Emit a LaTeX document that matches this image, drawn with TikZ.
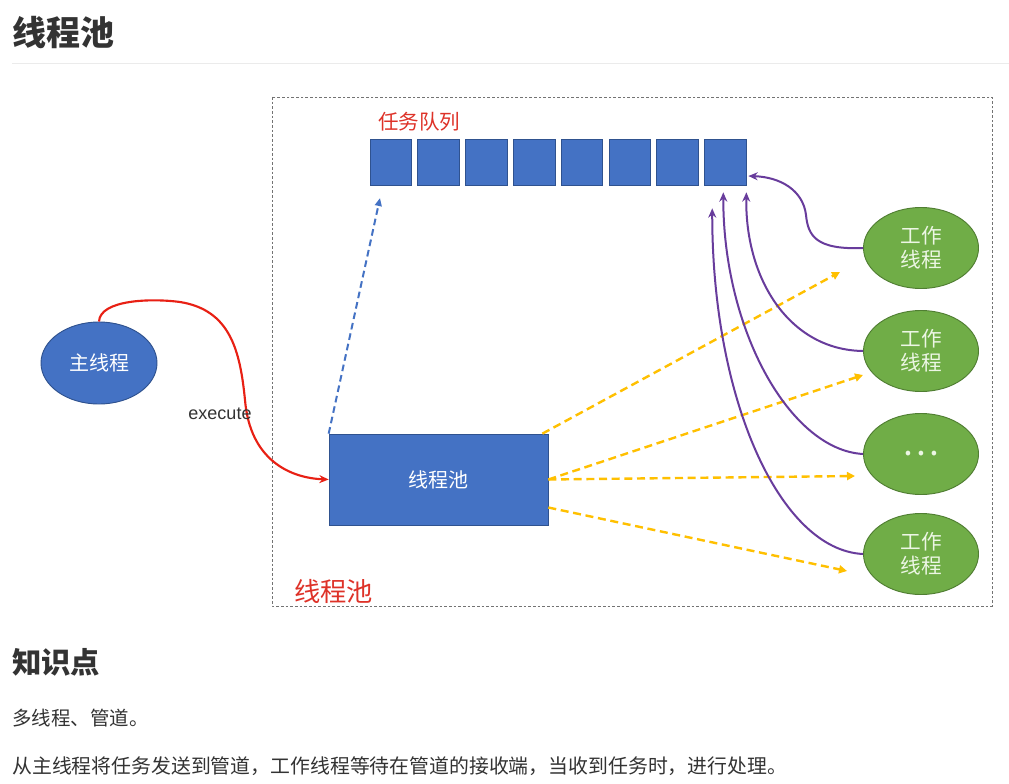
\documentclass[tikz,border=0pt]{standalone}
\usepackage{fontspec}
\setmainfont{Liberation Sans}
\newfontfamily\cjk{Noto Sans CJK SC}
\usepackage{tikz}
\usetikzlibrary{positioning,calc,shapes.geometric}
\usetikzlibrary{arrows.meta}
\definecolor{TaskBlue}{RGB}{68,114,196}
\definecolor{TaskEdge}{RGB}{47,82,143}
\definecolor{WorkGreen}{RGB}{112,173,71}
\definecolor{WorkEdge}{RGB}{80,126,50}
\definecolor{WorkText}{RGB}{236,246,228}
\definecolor{SendGold}{RGB}{255,192,0}
\definecolor{TakePurple}{RGB}{104,60,156}
\definecolor{LabRed}{RGB}{222,50,40}
\definecolor{CallRed}{RGB}{232,32,20}
\definecolor{InkGray}{RGB}{51,51,51}
\tikzset{cell/.style={rectangle,fill=TaskBlue,draw=TaskEdge,line width=0.5pt,minimum width=31.1pt,minimum height=34.5pt,inner sep=0pt},
worker/.style={ellipse,fill=WorkGreen,draw=WorkEdge,line width=0.7pt,minimum width=86.25pt,minimum height=60.75pt,inner sep=0pt,align=center,text=WorkText,font=\cjk\fontsize{15.5}{18}\selectfont},
master/.style={ellipse,fill=TaskBlue,draw=TaskEdge,line width=0.7pt,minimum width=87pt,minimum height=61.5pt,inner sep=0pt,text=white,font=\cjk\fontsize{15}{18}\selectfont},
poolbox/.style={rectangle,fill=TaskBlue,draw=TaskEdge,line width=0.5pt,minimum width=164.25pt,minimum height=68.25pt,inner sep=0pt,text=white,font=\cjk\fontsize{15}{18}\selectfont},
send/.style={draw=SendGold,line width=1.8pt,dash pattern=on 6pt off 3.5pt,-{Triangle[length=6pt,width=6pt]}},
take/.style={draw=TakePurple,line width=1.5pt,-{Stealth[length=7pt,width=6pt]}},
fetch/.style={draw=TaskBlue,line width=1.5pt,dash pattern=on 5pt off 3pt,-{Triangle[length=6pt,width=5pt]}},
call/.style={draw=CallRed,line width=1.6pt,-{Stealth[length=7pt,width=6pt]}},
redlab/.style={anchor=west,inner sep=0pt,text=LabRed},
txt/.style={anchor=west,inner sep=0pt,text=InkGray}}
\begin{document}
\begin{tikzpicture}[x=0.75pt,y=-0.75pt]
\useasboundingbox[fill=white] (0,0) rectangle (1009,784);
% heading and rule
\node[txt,font=\cjk\bfseries\fontsize{25.5}{30}\selectfont] (title) at (12,33) {线程池};
\draw[black!8,line width=0.75pt] (12,64) -- (1009,64);
% pool frame
\draw[black!55,line width=0.6pt,dash pattern=on 2pt off 1.5pt] (272,97) rectangle (992,606);
\node[redlab,font=\cjk\fontsize{15.4}{18}\selectfont] (qlab) at (378,122) {任务队列};
\node[redlab,font=\cjk\fontsize{19.7}{24}\selectfont] (plab) at (294,591) {线程池};
% task queue
\foreach \i in {0,...,7}
  \node[cell] (q\i) at ({390.7+47.8*\i},162) {};
\node[master] (main) at (99,363) {主线程};
\node[poolbox] (pool) at (438.5,479.5) {线程池};
\node[worker] (w1) at (921,248) {工作\\线程};
\node[worker] (w2) at (921,351) {工作\\线程};
\node[worker,font=\cjk\fontsize{26}{30}\selectfont] (w3) at (921,454) {…};
\node[worker] (w4) at (921,554) {工作\\线程};
\coordinate (qin) at (380,198);
\coordinate (t1) at (840,272);
\coordinate (t2) at (863,375);
\coordinate (t3) at (855,476);
\coordinate (t4) at (847,571);
% main thread submits
\draw[call] (main.north) .. controls (100,300) and (150,298) .. (180,302) .. controls (230,310) and (240,350) .. (245,400) .. controls (250,460) and (290,478) .. (pool.west);
\node[font=\fontsize{13.5}{16}\selectfont,text=InkGray,inner sep=0pt] (exec) at (220,414) {execute};
\draw[fetch] (pool.north west) -- (qin);
% dispatch to workers
\draw[send] ($(pool.north east)+(-6,0)$) -- (t1);
\draw[send] (pool.east) -- (t2);
\draw[send] (pool.east) -- (t3);
\draw[send] ($(pool.east)+(0,28)$) -- (t4);
% workers take from queue
\draw[take] (w1.west) .. controls (815,250) and (808,235) .. (806,215) .. controls (803,190) and (780,177) .. ($(q7.east)+(2,14)$);
\draw[take] (w2.west) .. controls (790,350) and (745,280) .. ($(q7.south east)+(0,7)$);
\draw[take] (w3.west) .. controls (790,450) and (723,330) .. ($(q7.south)+(-2,7)$);
\draw[take] (w4.west) .. controls (780,550) and (712,400) .. ($(q7.south west)+(8,23)$);
% notes
\node[txt,font=\cjk\bfseries\fontsize{22}{26}\selectfont] (kp) at (12,662) {知识点};
\node[txt,font=\cjk\fontsize{14.6}{18}\selectfont] (n1) at (12,718) {多线程、管道。};
\node[txt,font=\cjk\fontsize{14.9}{18}\selectfont] (n2) at (12,766) {从主线程将任务发送到管道，工作线程等待在管道的接收端，当收到任务时，进行处理。};
\end{tikzpicture}
\end{document}
